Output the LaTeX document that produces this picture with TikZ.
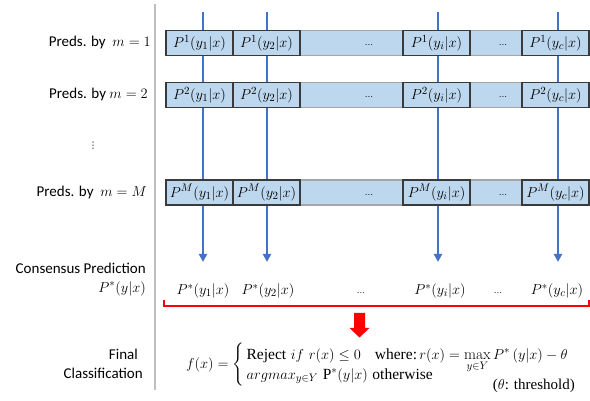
\documentclass[tikz,border=0pt]{standalone}
\usepackage{fontspec}
\usepackage{amsmath}
\setsansfont{Carlito}
\newfontfamily\tnr{Liberation Serif}
\newfontfamily\dejavu{DejaVu Sans}
\usetikzlibrary{arrows.meta}
\definecolor{lineblue}{HTML}{4472C4}
\definecolor{bandblue}{HTML}{BDD7EE}
\definecolor{boxedge}{HTML}{3A3A3A}
\definecolor{bandedge}{HTML}{A6A6A6}
\definecolor{sepgray}{HTML}{BFBFBF}
\definecolor{bred}{HTML}{FF0000}
\begin{document}
\begin{tikzpicture}[x=1pt,y=-1pt,
  pbox/.style={draw=boxedge, line width=1.1pt, fill=bandblue, minimum width=67pt, minimum height=25pt, inner sep=0pt, font=\fontsize{15.5}{17}\selectfont},
  band/.style={fill=bandblue},
  bandline/.style={draw=bandedge, line width=1.2pt},
  lab/.style={anchor=east, font=\sffamily\fontsize{15}{18}\selectfont, inner sep=0pt},
  cons/.style={font=\fontsize{15.5}{17}\selectfont, inner sep=0pt},
  dotsn/.style={font=\fontsize{10}{12}\selectfont, inner sep=0pt},
  flow/.style={draw=lineblue, line width=2pt, -{Triangle[width=8pt,length=8pt]}},
  sep/.style={draw=sepgray, line width=1.2pt},
  brk/.style={draw=bred, line width=1.6pt},
]
\useasboundingbox (0,0) rectangle (590,401);

% separator
\coordinate (s1) at (155,4);
\coordinate (s2) at (155,390);
\draw[sep] (s1) -- (s2);

% flow lines
\foreach \k/\xx in {1/203,2/267,i/438,c/558}{
  \coordinate (t\k) at (\xx,12);
  \coordinate (a\k) at (\xx,262);
  \draw[flow] (t\k) -- (a\k);
}

% rows
\foreach \r/\yy in {1/43,2/95,M/192.5}{
  \fill[band] (166,\yy-12.5) rectangle (588,\yy+12.5);
  \coordinate (bl\r) at (166,\yy-12.5);
  \coordinate (br\r) at (588,\yy-12.5);
  \coordinate (cl\r) at (166,\yy+12.5);
  \coordinate (cr\r) at (588,\yy+12.5);
  \draw[bandline] (bl\r) -- (br\r);
  \draw[bandline] (cl\r) -- (cr\r);
  \node[pbox] (r\r b1) at (199.5,\yy) {$P^{\r}(y_1|x)$};
  \node[pbox] (r\r b2) at (266.5,\yy) {$P^{\r}(y_2|x)$};
  \node[pbox] (r\r bi) at (436.5,\yy) {$P^{\r}(y_i|x)$};
  \node[pbox] (r\r bc) at (555.5,\yy) {$P^{\r}(y_c|x)$};
  \node[dotsn] (r\r d1) at (369,\yy+2) {...};
  \node[dotsn] (r\r d2) at (503,\yy+2) {...};
}

% left labels
\node[lab] (l1) at (151,43) {Preds. by\ \ $m=1$};
\node[lab] (l2) at (148,95) {Preds. by $m=2$};
\node[font=\dejavu\fontsize{9}{10}\selectfont, inner sep=0pt] (lv) at (93,146) {⋮};
\node[lab] (lM) at (147,192.5) {Preds. by\ \ $m=M$};
\node[lab] (lc) at (146,268) {Consensus Prediction};
\node[lab] (lp) at (146,288.5) {$P^{*}(y|x)$};
\node[lab] (lf) at (138,354) {Final};
\node[lab] (lcl) at (143,373) {Classification};

% consensus predictions
\node[cons] (c1) at (203,291) {$P^{*}(y_1|x)$};
\node[cons] (c2) at (268,291) {$P^{*}(y_2|x)$};
\node[dotsn] (cd1) at (361,293) {...};
\node[cons] (ci) at (440,291) {$P^{*}(y_i|x)$};
\node[dotsn] (cd2) at (498,293) {...};
\node[cons] (cc) at (557,291) {$P^{*}(y_c|x)$};

% red bracket
\coordinate (k1) at (164,300.5);
\coordinate (k2) at (164,306);
\coordinate (k3) at (589,306);
\coordinate (k4) at (589,300.5);
\draw[brk] (k1) -- (k2) -- (k3) -- (k4);

% red block arrow
\fill[bred] (354,313) -- (365,313) -- (365,328) -- (369.5,328) -- (359.5,337.5) -- (349.5,328) -- (354,328) -- cycle;

% formula
\node[anchor=west, inner sep=0pt, font=\fontsize{15.5}{20}\selectfont] (fx) at (186,365)
{$f(x)=\left\{\begin{array}{@{\,}l@{}}
\text{\tnr Reject}\ if\ r(x)\le 0\ \ \ \text{\tnr where:}\,r(x)=\smash{\max\limits_{y\in Y}}\,P^{*}\,(y|x)-\theta\\
argmax_{y\in Y}\ \text{\tnr P}^{*}(y|x)\ \text{\tnr otherwise}
\end{array}\right.$};
\node[anchor=base east, inner sep=0pt, font=\fontsize{15}{18}\selectfont] (th) at (575,389) {\tnr ($\theta$: threshold)};
\end{tikzpicture}
\end{document}
